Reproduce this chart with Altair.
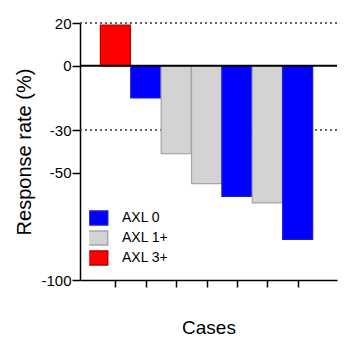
import altair as alt
import pandas as pd

cases = [1, 2, 3, 4, 5, 6, 7]
response = [19, -15, -41, -55, -61, -64, -81]
groups = ["AXL 3+", "AXL 0", "AXL 1+", "AXL 1+", "AXL 0", "AXL 1+", "AXL 0"]
legend_order = ["AXL 0", "AXL 1+", "AXL 3+"]
fill_colors = ["#0000ff", "#d3d3d3", "#ff0000"]
stroke_colors = ["#1a1acc", "#a6a6a6", "#b00000"]
y_ticks = [20, 0, -30, -50, -100]
grid_values = [20, -30]

df = pd.DataFrame({"case": cases, "response": response, "group": groups})
grid_df = pd.DataFrame({"v": grid_values})
zero_df = pd.DataFrame({"v": [0]})

FONT = "Liberation Sans"

x_scale = alt.Scale(domain=[0, 8.13], nice=False, zero=False)
y_scale = alt.Scale(domain=[-100, 20], nice=False)

legend_props = dict(
    title=None, orient="none", legendX=9.2, legendY=187, padding=0,
    rowPadding=4, clipHeight=16, symbolOffset=-3.5,
)

grid = alt.Chart(grid_df).mark_rule(
    color="#333333", strokeWidth=1.5, strokeDash=[2, 3]
).encode(y=alt.Y("v:Q", scale=y_scale))

bars = alt.Chart(df).mark_bar(size=30, strokeWidth=1.2).encode(
    x=alt.X(
        "case:Q",
        scale=x_scale,
        axis=alt.Axis(
            values=cases, labels=False, tickSize=7, tickWidth=1.5, tickColor="black",
            domainColor="black", domainWidth=1.5, grid=False,
            title="Cases", titleFont=FONT, titleFontSize=19, titleFontWeight="normal",
            titleColor="black", titlePadding=31,
        ),
    ),
    y=alt.Y(
        "response:Q",
        scale=y_scale,
        axis=alt.Axis(
            values=y_ticks, tickSize=8, tickWidth=1.5, tickColor="black",
            domainColor="black", domainWidth=1.5, grid=False,
            labelFont=FONT, labelFontSize=15, labelColor="black", labelPadding=1,
            labelExpr="datum.value + ''",
            title="Response rate (%)", titleFont=FONT, titleFontSize=20,
            titleFontWeight="normal", titleColor="black", titlePadding=6,
        ),
    ),
    fill=alt.Fill(
        "group:N",
        scale=alt.Scale(domain=legend_order, range=fill_colors),
        legend=alt.Legend(**legend_props),
    ),
    stroke=alt.Stroke(
        "group:N",
        scale=alt.Scale(domain=legend_order, range=stroke_colors),
        legend=alt.Legend(**legend_props),
    ),
)

zero = alt.Chart(zero_df).mark_rule(color="black", strokeWidth=2).encode(
    y=alt.Y("v:Q", scale=y_scale)
)

chart = alt.layer(grid, bars, zero).properties(
    width=257, height=257,
    padding={"left": 6, "right": 0, "top": 8, "bottom": 0},
).configure_view(stroke=None).configure_legend(
    symbolType="M-2,-1H2V1H-2Z", symbolSize=196, symbolStrokeWidth=1.5,
    symbolOpacity=1,
    labelFont=FONT, labelFontSize=14, labelColor="black", labelOffset=20.3,
)

chart.save("out.html", embed_options={"renderer": "svg", "actions": False})
